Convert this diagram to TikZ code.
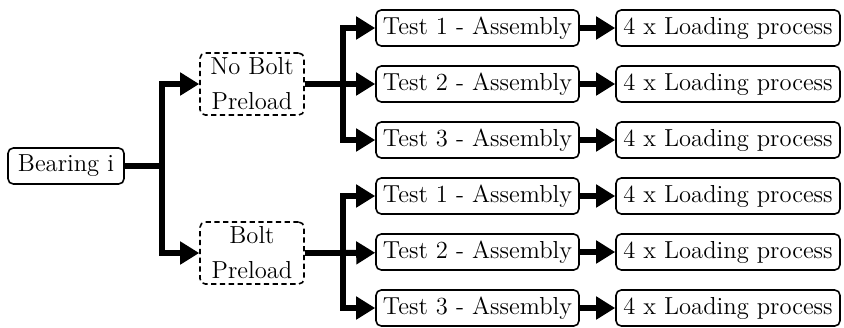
\documentclass[tikz,border=0pt]{standalone}
\usepackage{tikz}
\usetikzlibrary{arrows.meta}
\usetikzlibrary{positioning,calc}
\tikzset{
    box/.style={
        draw,
        rounded corners=3pt,
        line width=0.9pt,
        fill=white,
        minimum height=0.72cm,
        inner sep=1pt,
        font=\fontsize{14}{16}\selectfont
    },
    casebox/.style={
        box,
        dash pattern=on 3pt off 2pt,
        align=center,
        minimum width=2.08cm,
        minimum height=1.24cm,
        font=\fontsize{14}{20}\selectfont
    },
    testbox/.style={box, minimum width=4.06cm},
    loadbox/.style={box, minimum width=4.48cm},
    branch/.style={line width=3.4pt},
    every edge/.style={
        draw,
        -{Triangle[length=3.8mm, width=4.4mm]},
        line width=3.4pt
    }
}

\begin{document}
\begin{tikzpicture}
  \useasboundingbox (0,0) rectangle (16.88,6.54);

  % root
  \node[box, minimum width=2.32cm] (bearing) at (1.32,3.22) {Bearing i};

  % preload cases
  \node[casebox] (nobolt) at (5.04,4.86) {No Bolt\\Preload};
  \node[casebox] (bolt) at (5.04,1.48) {Bolt\\Preload};

  % tests
  \node[testbox] (t1a) at (9.55,5.98) {Test 1 - Assembly};
  \node[testbox] (t2a) at (9.55,4.86) {Test 2 - Assembly};
  \node[testbox] (t3a) at (9.55,3.74) {Test 3 - Assembly};
  \node[testbox] (t1b) at (9.55,2.62) {Test 1 - Assembly};
  \node[testbox] (t2b) at (9.55,1.50) {Test 2 - Assembly};
  \node[testbox] (t3b) at (9.55,0.38) {Test 3 - Assembly};

  % loading
  \foreach \t in {1a,2a,3a,1b,2b,3b} {
    \node[loadbox, anchor=center] (l\t) at ($(t\t)+(5.01,0)$) {4 x Loading process};
    \draw (t\t) edge (l\t);
  }

  % branch points
  \coordinate (s0) at (3.24,3.22);
  \coordinate (sa) at (6.86,4.86);
  \coordinate (sb) at (6.86,1.48);

  % first split
  \draw[branch] (bearing) -- (s0);
  \draw (s0) edge[to path={|- (\tikztotarget)}] (nobolt);
  \draw (s0) edge[to path={|- (\tikztotarget)}] (bolt);

  % second split, no preload
  \draw[branch] (nobolt) -- (sa);
  \draw (sa) edge[to path={|- (\tikztotarget)}] (t1a);
  \draw (sa) edge (t2a);
  \draw (sa) edge[to path={|- (\tikztotarget)}] (t3a);

  % second split, preload
  \draw[branch] (bolt) -- (sb);
  \draw (sb) edge[to path={|- (\tikztotarget)}] (t1b);
  \draw (sb) edge (t2b);
  \draw (sb) edge[to path={|- (\tikztotarget)}] (t3b);
\end{tikzpicture}
\end{document}
